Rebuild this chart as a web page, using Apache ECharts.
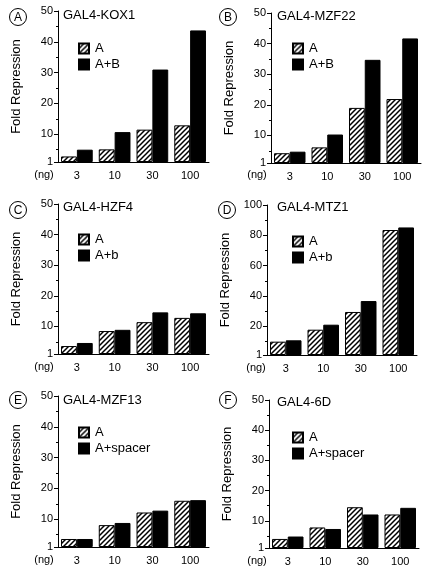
<!DOCTYPE html>
<html><head><meta charset="utf-8">
<script src="https://cdn.jsdelivr.net/npm/echarts@6/dist/echarts.min.js"></script>
<style>html,body{margin:0;padding:0;background:#fff}#c{width:428px;height:580px}</style>
</head><body><div id="c"></div>
<script>
// ---- data ----
const doses = ['3', '10', '30', '100'];
const panelLetters = ['A', 'B', 'C', 'D', 'E', 'F'];
const panelTitles = ['GAL4-KOX1', 'GAL4-MZF22', 'GAL4-HZF4', 'GAL4-MTZ1', 'GAL4-MZF13', 'GAL4-6D'];
const seriesNamesA = ['A', 'A', 'A', 'A', 'A', 'A'];
const seriesNamesB = ['A+B', 'A+B', 'A+b', 'A+b', 'A+spacer', 'A+spacer'];
const kox1A = [2.8, 5.1, 11.5, 12.9];
const kox1AB = [5.0, 10.7, 31.0, 43.7];
const mzf22A = [4.2, 6.1, 19.0, 21.9];
const mzf22AB = [4.7, 10.3, 34.7, 41.7];
const hzf4A = [3.6, 8.5, 11.4, 12.8];
const hzf4Ab = [4.6, 8.9, 14.6, 14.3];
const mtz1A = [9.8, 17.7, 29.4, 83.5];
const mtz1Ab = [10.7, 21.0, 36.6, 85.2];
const mzf13A = [3.6, 8.1, 12.2, 16.0];
const mzf13Spacer = [3.6, 8.8, 12.8, 16.2];
const d6A = [4.0, 7.8, 14.5, 12.1];
const d6Spacer = [4.8, 7.3, 12.1, 14.3];
const yTicks50 = [1, 10, 20, 30, 40, 50];
const yMinor50 = [5, 15, 25, 35, 45];
const yTicks100 = [1, 20, 40, 60, 80, 100];
const yMinor100 = [10, 30, 50, 70, 90];
const yAxisName = 'Fold Repression';
const xUnit = '(ng)';

const valuesA = [kox1A, mzf22A, hzf4A, mtz1A, mzf13A, d6A];
const valuesB = [kox1AB, mzf22AB, hzf4Ab, mtz1Ab, mzf13Spacer, d6Spacer];
const majorTicks = [yTicks50, yTicks50, yTicks50, yTicks100, yTicks50, yTicks50];
const minorTicks = [yMinor50, yMinor50, yMinor50, yMinor100, yMinor50, yMinor50];

// ---- layout (pixels) ----
const layout = [
  {left: 58, top: 11, width: 151, height: 151, circle: [18, 17], title: [63, 15], legend: [73, 37], ng: [44, 175]},
  {left: 271, top: 13, width: 150, height: 150, circle: [228, 17], title: [277, 16], legend: [287, 37], ng: [257, 175]},
  {left: 58, top: 204, width: 151, height: 150, circle: [18, 210], title: [63, 207], legend: [73, 228], ng: [44, 367]},
  {left: 267, top: 205, width: 150, height: 150, circle: [227, 210], title: [277, 207], legend: [287, 230], ng: [256, 368]},
  {left: 58, top: 396, width: 151, height: 151, circle: [18, 400], title: [63, 400], legend: [73, 421], ng: [44, 560]},
  {left: 269, top: 400, width: 150, height: 148, circle: [228, 400], title: [277, 402], legend: [287, 426], ng: [257, 561]}
];

const FONT = '"Liberation Sans", Arial, Helvetica, sans-serif';

// hatch pattern
const pc = document.createElement('canvas');
pc.width = 5; pc.height = 5;
const g = pc.getContext('2d');
g.fillStyle = '#fff'; g.fillRect(0, 0, 5, 5);
g.strokeStyle = '#000'; g.lineWidth = 1.5;
g.beginPath();
g.moveTo(-1, 6); g.lineTo(6, -1);
g.moveTo(-1, 1); g.lineTo(1, -1);
g.moveTo(4, 6); g.lineTo(6, 4);
g.stroke();
const hatch = {image: pc, repeat: 'repeat'};

const chart = echarts.init(document.getElementById('c'), null, {renderer: 'canvas'});
const grid = [], xAxis = [], yAxis = [], series = [], legend = [], graphic = [];

layout.forEach((L, i) => {
  const max = majorTicks[i][majorTicks[i].length - 1];
  grid.push({left: L.left, top: L.top, width: L.width, height: L.height, containLabel: false});
  xAxis.push({
    type: 'category', gridIndex: i, data: doses,
    axisLine: {lineStyle: {color: '#000', width: 1}},
    axisTick: {show: false},
    axisLabel: {color: '#000', fontFamily: FONT, fontSize: 11, margin: 8}
  });
  yAxis.push({
    type: 'value', gridIndex: i, min: 1, max: max, startValue: 1, position: 'left',
    name: yAxisName, nameLocation: 'middle', nameRotate: 90, nameGap: 35,
    nameTextStyle: {color: '#000', fontFamily: FONT, fontSize: 13},
    axisLine: {show: true, lineStyle: {color: '#000', width: 1}},
    axisTick: {show: true, length: 4, customValues: majorTicks[i], lineStyle: {color: '#000'}},
    axisLabel: {color: '#000', fontFamily: FONT, fontSize: 11, margin: 5, customValues: majorTicks[i]},
    splitLine: {show: false}
  });
  yAxis.push({
    type: 'value', gridIndex: i, min: 1, max: max, position: 'left',
    axisLine: {show: false},
    axisTick: {show: true, length: 2, customValues: minorTicks[i], lineStyle: {color: '#000'}},
    axisLabel: {show: false},
    splitLine: {show: false}
  });
  series.push({
    type: 'bar', name: seriesNamesA[i], xAxisIndex: i, yAxisIndex: 2 * i,
    data: valuesA[i], barGap: '0%', barCategoryGap: '16%', clip: true,
    itemStyle: {color: hatch, borderColor: '#000', borderWidth: 1}
  });
  series.push({
    type: 'bar', name: seriesNamesB[i], xAxisIndex: i, yAxisIndex: 2 * i,
    data: valuesB[i], barGap: '0%', barCategoryGap: '16%', clip: true,
    itemStyle: {color: '#000', borderColor: '#000', borderWidth: 1}
  });
  legend.push({
    orient: 'vertical', left: L.legend[0], top: L.legend[1],
    data: [seriesNamesA[i], seriesNamesB[i]],
    icon: 'rect', itemWidth: 10, itemHeight: 10, itemGap: 3,
    textStyle: {color: '#000', fontFamily: FONT, fontSize: 13, padding: [0, 0, 0, 1]},
    selectedMode: false
  });
  graphic.push({
    type: 'circle', shape: {cx: L.circle[0], cy: L.circle[1], r: 8.5},
    style: {fill: '#fff', stroke: '#000', lineWidth: 1}
  });
  graphic.push({
    type: 'text', x: L.circle[0], y: L.circle[1] + 0.5,
    style: {text: panelLetters[i], fill: '#000', font: '12px ' + FONT, textAlign: 'center', textVerticalAlign: 'middle'}
  });
  graphic.push({
    type: 'text', x: L.title[0], y: L.title[1],
    style: {text: panelTitles[i], fill: '#000', font: '13px ' + FONT, textAlign: 'left', textVerticalAlign: 'middle'}
  });
  graphic.push({
    type: 'text', x: L.ng[0], y: L.ng[1],
    style: {text: xUnit, fill: '#000', font: '11px ' + FONT, textAlign: 'center', textVerticalAlign: 'middle'}
  });
});

chart.setOption({
  animation: false,
  backgroundColor: '#fff',
  grid, xAxis, yAxis, series, legend, graphic
});
</script>
</body></html>
